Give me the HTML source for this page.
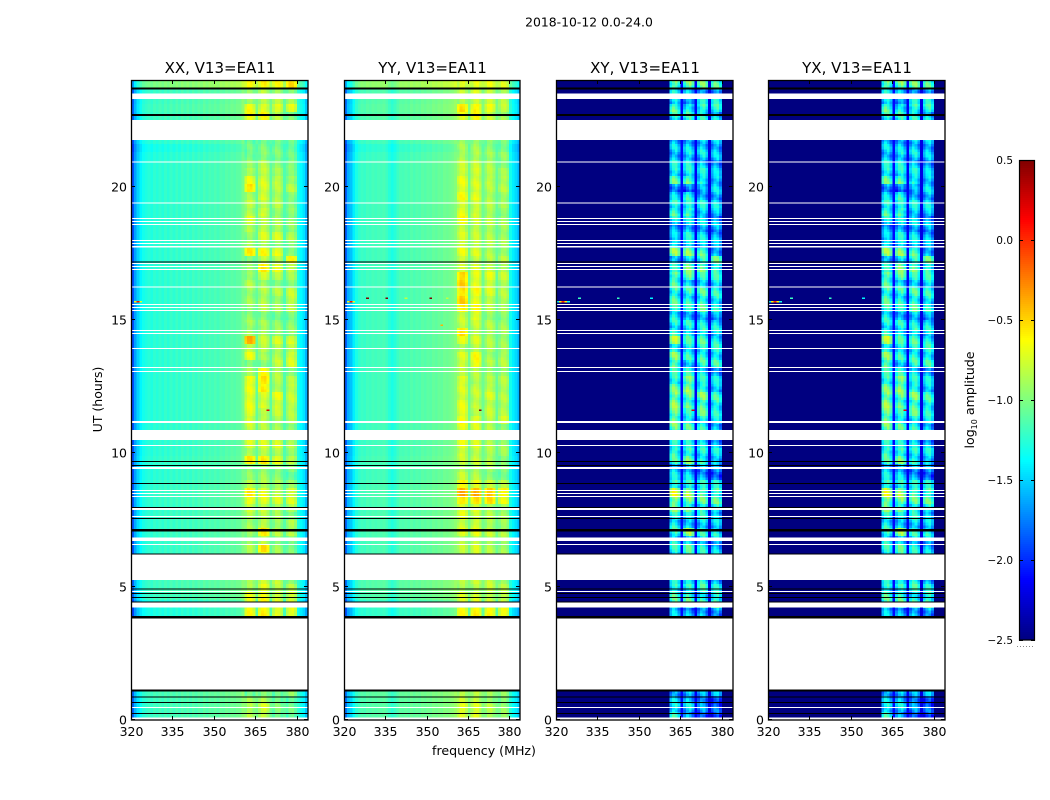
<!DOCTYPE html>
<html>
<head>
<meta charset="utf-8">
<title>2018-10-12 amplitude waterfall</title>
<style>
html,body{margin:0;padding:0;background:#fff;width:1050px;height:800px;overflow:hidden}
svg{display:block}
text{font-family:"DejaVu Sans","Liberation Sans",sans-serif;fill:#000}
</style>
</head>
<body>
<svg id="chart" xmlns="http://www.w3.org/2000/svg" width="1050" height="800" viewBox="0 0 1050 800">
  <text x="589" y="26.5" font-size="12.4" text-anchor="middle">2018-10-12 0.0-24.0</text>
  <text x="484" y="755" font-size="12.6" text-anchor="middle">frequency (MHz)</text>
  <text x="0" y="0" font-size="12.5" text-anchor="middle" transform="translate(102,399.5) rotate(-90)">UT (hours)</text>
  <text x="0" y="0" font-size="12.6" text-anchor="middle" transform="translate(974,400) rotate(-90)">log<tspan font-size="8" dy="3">10</tspan><tspan dy="-3"> amplitude</tspan></text>
</svg>
<script>
var panelTitles = ['XX, V13=EA11', 'YY, V13=EA11', 'XY, V13=EA11', 'YX, V13=EA11'];
var xTickValues = [320, 335, 350, 365, 380];
var yTickValues = [0, 5, 10, 15, 20];
var cbarTickValues = [-2.5, -2, -1.5, -1, -0.5, 0, 0.5];
var cbarTickLabels = ['\u22122.5', '\u22122.0', '\u22121.5', '\u22121.0', '\u22120.5', '0.0', '0.5'];
var freqStart = 320;
var freqEnd = 384;
var rowHours = 0.3;
var bandStartChannels = [361, 366, 371, 376];
var bandShapeParallel = [-0.1, 0.02, 0.02, -0.09];
var bandShapeCross = [-0.18, 0.06, 0.06, -0.2];
var rippleParallel = [0.03, 0.04, 0.01, -0.03, -0.05, -0.02, 0.03, 0.05, 0.02, -0.03, -0.05, -0.02, 0.01];
var rippleCross = [0.12, 0.15, 0.06, -0.1, -0.22, -0.08, 0.12, 0.16, 0.05, -0.12, -0.2, -0.05, 0.08];

var spectrumXX = [-1.9,-1.65,-1.5,-1.4,-1.32,-1.29,-1.26,-1.29,-1.24,-1.27,-1.23,-1.27,-1.22,-1.26,-1.21,-1.25,-1.2,-1.24,-1.19,-1.23,-1.19,-1.23,-1.18,-1.22,-1.18,-1.21,-1.16,-1.2,-1.16,-1.18,-1.15,-1.18,-1.14,-1.16,-1.12,-1.14,-1.11,-1.13,-1.1,-1.1,-1.02,-1.05,-1.05,-1.05,-1.05,-1.08,-1.05,-1.05,-1.05,-1.05,-1.1,-1.1,-1.1,-1.1,-1.1,-1.14,-1.1,-1.1,-1.1,-1.1,-1.3,-1.38,-1.45,-1.6];
var spectrumYY = [-1.85,-1.62,-1.55,-1.42,-1.3,-1.24,-1.2,-1.22,-1.18,-1.2,-1.17,-1.19,-1.17,-1.18,-1.16,-1.2,-1.26,-1.3,-1.26,-1.2,-1.16,-1.17,-1.15,-1.17,-1.13,-1.16,-1.13,-1.15,-1.11,-1.13,-1.1,-1.12,-1.08,-1.1,-1.07,-1.09,-1.05,-1.06,-1.04,-1.02,-0.98,-1,-1,-1,-1,-1.05,-1,-1,-1,-1,-1.05,-1,-1,-1,-1,-1.08,-1.05,-1.05,-1.05,-1.08,-1.32,-1.42,-1.48,-1.6];
var spectrumCross = [-2.5,-2.5,-2.5,-2.5,-2.5,-2.5,-2.5,-2.5,-2.5,-2.5,-2.5,-2.5,-2.5,-2.5,-2.5,-2.5,-2.5,-2.5,-2.5,-2.5,-2.5,-2.5,-2.5,-2.5,-2.5,-2.5,-2.5,-2.5,-2.5,-2.5,-2.5,-2.5,-2.5,-2.5,-2.5,-2.5,-2.5,-2.5,-2.5,-2.5,-2.5,-2.5,-2.5,-2.5,-2.5,-2.1,-2.5,-2.5,-2.5,-2.5,-2.15,-2.5,-2.5,-2.5,-2.5,-2.2,-2.5,-2.5,-2.5,-2.5,-2.5,-2.5,-2.5,-2.5];

var backgroundOffset = [0.06,0.06,0.06,0.08,0,0,0,0,0,0,0,0,0,-0.04,-0.04,0.05,0.06,0.06,0,0,0.02,0.02,0.02,0.03,0.02,0.03,0.02,0.03,0.03,0.02,0,0,0.02,0,0,0,0,0,0,0,0,0,0,0,0,0,0,0,0,0,0,0,0,0,0,0,0,0,0,0,0,0,0,0,0,0,0,0,0,0,-0.02,-0.06,0,0,0,0.05,0.07,0.05,0.04,0.24];

var bandXX = [
[-.85,-.8,-1,-1.05],[-.85,-.75,-1,-1.05],[-.9,-.85,-1,-1.05],[-1,-.95,-1.05,-.95],
null,null,null,null,null,null,null,null,null,
[-.65,-.6,-.7,-.7],[-.7,-.65,-.75,-.75],[-.7,-.65,-.75,-.75],[-.85,-.7,-.85,-.85],[-.9,-.8,-.8,-.95],
null,null,[-.85,-.7,-.9,-1],
[-.85,-.55,-.9,-1],[-.95,-.8,-.95,-1],[-.9,-.6,-.85,-.85],[-.9,-.8,-.9,-.85],[-.85,-.85,-.9,-1],[-.8,-.8,-.85,-.85],
[-.65,-.7,-.75,-.75],[-.6,-.7,-.8,-.75],[-.8,-.85,-.9,-.95],[-.95,-.9,-.95,-1.05],[-.95,-.9,-.95,-1],[-.6,-.6,-.7,-.8],[-.85,-.8,-.85,-.95],[-.75,-.75,-.75,-.85],
[-.8,-.85,-.9,-.95],[-.8,-.85,-.9,-.95],[-.75,-.8,-.85,-.85],[-.7,-.85,-.8,-.85],[-.7,-.75,-.75,-.8],[-.7,-.75,-.7,-.8],[-.7,-.6,-.85,-.8],[-.65,-.55,-.85,-.85],[-.9,-.65,-.85,-.95],
[-.95,-.95,-.8,-.75],[-.7,-.9,-.85,-.75],[-.8,-.8,-.85,-.85],[-.4,-.8,-.75,-.75],[-.9,-.85,-.9,-.95],[-.9,-.9,-.95,-.95],[-.95,-.95,-1,-1],[-.95,-.85,-.9,-.85],[-.9,-.85,-.9,-.8],[-.9,-.85,-.85,-.8],
[-.85,-.9,-.95,-.95],[-.9,-.75,-.85,-.9],[-.95,-.6,-.7,-.8],[-.95,-.8,-.85,-.65],[-.6,-.65,-.7,-.95],[-.85,-.85,-.95,-1],[-.95,-.75,-.75,-.85],[-.85,-.8,-.85,-.95],[-.75,-.85,-.9,-.95],[-.85,-.75,-.9,-.95],[-.8,-.85,-.85,-1],[-.9,-.75,-.85,-.95],[-.55,-.75,-.85,-.85],[-.7,-.75,-.8,-.9],[-.85,-.8,-.9,-1],[-.95,-.85,-.95,-.95],[-1,-.95,-1,-1.05],[-1.05,-1,-1,-1.05],
[-1.05,-1,-1,-1.05],null,null,
[-.65,-.65,-.85,-1],[-.65,-.7,-.7,-.7],[-.9,-.85,-.85,-.9],[-.95,-.8,-.85,-.95],[-.6,-.6,-.65,-.55]
];

var bandYY = [
[-.75,-.7,-.85,-.9],[-.7,-.75,-.85,-.95],[-.8,-.8,-.9,-.95],[-.8,-.8,-.9,-.95],
null,null,null,null,null,null,null,null,null,
[-.65,-.6,-.6,-.65],[-.75,-.75,-.8,-.8],[-.75,-.75,-.8,-.8],[-.85,-.85,-.8,-.85],[-.85,-.8,-.8,-.9],
null,null,[-.8,-.75,-.85,-.9],
[-.8,-.75,-.85,-.9],[-.85,-.8,-.85,-.9],[-.7,-.7,-.8,-.85],[-.8,-.75,-.85,-.9],[-.7,-.8,-.85,-.9],[-.75,-.75,-.85,-.9],
[-.55,-.55,-.55,-.7],[-.4,-.4,-.45,-.6],[-.6,-.7,-.8,-.85],[-.8,-.85,-.95,-1],[-.85,-.85,-.9,-1],[-.8,-.8,-.85,-.95],[-.75,-.8,-.85,-.9],[-.7,-.75,-.85,-.9],
[-.7,-.75,-.85,-.95],[-.7,-.75,-.85,-.95],[-.65,-.7,-.8,-.75],[-.7,-.85,-.8,-.85],[-.7,-.8,-.8,-.85],[-.75,-.8,-.75,-.85],[-.75,-.8,-.8,-.85],[-.7,-.85,-.85,-.85],[-.85,-.85,-.9,-.9],
[-.75,-.65,-.85,-.85],[-.75,-.65,-.9,-.85],[-.85,-.8,-.85,-.9],[-.7,-.75,-.85,-.9],[-.55,-.8,-.85,-.9],[-.8,-.8,-.85,-.9],[-.8,-.7,-.9,-.95],[-.6,-.65,-.85,-.9],[-.5,-.7,-.8,-.85],[-.55,-.65,-.75,-.85],
[-.5,-.7,-.75,-.85],[-.5,-.7,-.7,-.8],[-.8,-.75,-.8,-.85],[-.75,-.8,-.85,-.85],[-.7,-.75,-.85,-.9],[-.75,-.8,-.85,-.9],[-.75,-.8,-.85,-.9],[-.8,-.8,-.85,-.9],[-.65,-.8,-.85,-.9],[-.7,-.75,-.85,-.95],[-.75,-.8,-.85,-.9],[-.65,-.7,-.85,-.9],[-.7,-.75,-.85,-.85],[-.7,-.75,-.8,-.85],[-.75,-.75,-.85,-.9],[-.8,-.8,-.85,-.95],[-.85,-.85,-.9,-.95],[-.9,-.9,-.95,-1],
[-.9,-.9,-.95,-1],null,null,
[-.7,-.65,-.8,-.9],[-.55,-.6,-.65,-.8],[-.85,-.8,-.8,-.85],[-.8,-.7,-.75,-.85],[-.7,-.7,-.7,-.75]
];

var bandXY = [
[-1.3,-1.55,-1.7,-1.85],[-1.35,-1.45,-1.7,-1.85],[-1.5,-1.5,-1.6,-1.8],[-1.5,-1.5,-1.6,-1.6],
null,null,null,null,null,null,null,null,null,
[-1.55,-1.6,-1.5,-1.55],[-1.2,-1.2,-1.3,-1.2],[-1.2,-1.2,-1.3,-1.2],[-1.25,-1.3,-1.25,-1.4],[-1.4,-1.5,-1.35,-1.5],
null,null,[-1.3,-1.2,-1.35,-1.5],
[-1.3,-1.2,-1.35,-1.5],[-1.35,-1.4,-1.4,-1.5],[-1.25,-1,-1.3,-1.35],[-1.35,-1.4,-1.4,-1.45],[-1.3,-1.45,-1.35,-1.55],[-1.1,-1.2,-1.25,-1.3],
[-.95,-1.05,-1.15,-1.15],[-.8,-.95,-1.1,-1.15],[-1.2,-1.3,-1.35,-1.4],[-1.45,-1.5,-1.6,-1.7],[-1.45,-1.5,-1.6,-1.7],[-1.25,-1.1,-1.3,-1.4],[-1.15,-1.2,-1.3,-1.4],[-1.35,-1.4,-1.45,-1.55],
[-1.1,-1.2,-1.3,-1.5],[-1.1,-1.2,-1.3,-1.5],[-1.05,-1.25,-1.3,-1.4],[-1.05,-1.3,-1.15,-1.35],[-1,-1.15,-1.1,-1.25],[-1,-1.1,-1.05,-1.25],[-1.1,-1,-1.2,-1.4],[-1.2,-1.05,-1.35,-1.45],[-1.3,-1.3,-1.4,-1.55],
[-1.05,-1.4,-1.25,-1.25],[-1.05,-1.3,-1.25,-1.3],[-1.25,-1.3,-1.3,-1.3],[-.9,-1.25,-1.2,-1.35],[-1.25,-1.3,-1.25,-1.4],[-1.35,-1.35,-1.4,-1.4],[-1.35,-1.5,-1.45,-1.6],[-1.25,-1.35,-1.2,-1.35],[-1.2,-1.3,-1.2,-1.3],[-1.2,-1.25,-1.2,-1.3],
[-1.2,-1.4,-1.35,-1.35],[-1.1,-1.1,-1.3,-1.3],[-1.35,-1.1,-1.1,-1.2],[-1.4,-1.35,-1.3,-1.15],[-1,-1.05,-1.15,-1.5],[-1.3,-1.35,-1.5,-1.6],[-1.55,-1.4,-1.45,-1.55],[-1.6,-1.5,-1.5,-1.6],[-1.4,-1.45,-1.5,-1.6],[-1.2,-1.15,-1.4,-1.5],[-1.3,-1.4,-1.4,-1.45],[-1.5,-1.3,-1.5,-1.5],[-1.6,-1.75,-1.65,-1.5],[-1.15,-1.15,-1.3,-1.45],[-1.3,-1.35,-1.4,-1.55],[-1.4,-1.4,-1.5,-1.55],[-1.45,-1.4,-1.45,-1.55],[-1.5,-1.5,-1.45,-1.5],
[-1.5,-1.5,-1.45,-1.5],null,null,
[-1.3,-1.3,-1.35,-1.45],[-1.15,-1.3,-1.2,-1.25],[-1.4,-1.7,-1.4,-1.4],[-1.4,-1.45,-1.5,-1.55],[-1.05,-1.05,-1.1,-1.2]
];

var flaggedGaps = [[23.29,23.49],[21.75,22.47],[20.906,20.94],[19.36,19.4],[18.79,18.83],[18.68,18.71],[18.56,18.6],[17.96,18],[17.85,17.89],[17.72,17.78],[17.1,17.14],[16.99,17.03],[16.88,16.91],[16.22,16.26],[15.56,15.6],[15.45,15.49],[15.34,15.38],[14.59,14.625],[14.475,14.51],[13.91,13.95],[13.2,13.24],[13.05,13.09],[11.14,11.21],[10.5,10.875],[10.275,10.31],[9.41,9.49],[8.59,8.625],[8.475,8.51],[8.36,8.4],[7.875,7.95],[7.61,7.65],[6.71,6.84],[6.56,6.6],[5.25,6.21],[4.8,4.84],[4.21,4.41],[1.125,3.84],[0.45,0.49],[0,0.09]];
var blackScans = [[23.64,23.72],[22.65,22.72],[17.16,17.19],[9.675,9.71],[9.525,9.56],[8.85,8.89],[7.95,7.99],[7.54,7.58],[7.07,7.17],[6.2,6.24],[4.89,4.93],[4.725,4.76],[4.575,4.61],[4.41,4.44],[3.81,3.9],[1.07,1.14],[0.84,0.88],[0.64,0.675],[0.225,0.26]];
var spikePanels = [0,0,0,1,1,1,2,2,2,2,2,3,3,3,3,3,0,1,2,3,1,1,1,1,1,2,2,2,3,3,3,1];
var spikeFreqs = [321,322,323,321,322,323,320,321,322,323,324,320,321,322,323,324,369,369,369,369,328,335,342,351,357,328,342,354,328,342,354,355];
var spikeHours = [15.67,15.67,15.67,15.67,15.67,15.67,15.67,15.67,15.67,15.67,15.67,15.67,15.67,15.67,15.67,15.67,11.6,11.6,11.6,11.6,15.8,15.8,15.8,15.8,15.8,15.8,15.8,15.8,15.8,15.8,15.8,14.8];
var spikeValues = [-0.7,0.1,-0.7,-0.7,0.1,-0.7,-1.4,-0.6,0,-0.6,-1.3,-1.4,-0.6,0,-0.6,-1.3,0.2,0.45,0.2,0.2,0.5,0.5,-0.8,0.5,-0.8,-1.2,-1.2,-1.4,-1.2,-1.2,-1.4,-0.4];

var panelSpectra = [spectrumXX, spectrumYY, spectrumCross, spectrumCross];
var panelBands = [bandXX, bandYY, bandXY, bandXY];
var panelUsesOffset = [true, true, false, false];
var panelShapes = [bandShapeParallel, bandShapeParallel, bandShapeCross, bandShapeCross];
var panelRipples = [rippleParallel, rippleParallel, rippleCross, rippleCross];
var panelLefts = [131, 344, 556, 768];
var panelWidths = [177, 176, 177, 177];
var plotTop = 80;
var plotBottom = 720;
var subRows = 3;
var cbarLeft = 1019;
var cbarWidth = 16;
var cbarTop = 160;
var cbarBottom = 640;
var cbarMin = -2.5;
var cbarMax = 0.5;
var SVG_NS = 'http://www.w3.org/2000/svg';
var svg = document.getElementById('chart');

function jetPart(t, c) {
  var v = 1.5 - Math.abs(4 * t - c);
  return Math.round(255 * Math.max(0, Math.min(1, v)));
}
function jet(value) {
  var t = (value - cbarMin) / (cbarMax - cbarMin);
  t = Math.max(0, Math.min(1, t));
  return 'rgb(' + jetPart(t, 3) + ',' + jetPart(t, 2) + ',' + jetPart(t, 1) + ')';
}
function xScale(panel, freq) {
  return panelLefts[panel] + (freq - freqStart) * panelWidths[panel] / (freqEnd - freqStart);
}
function yScale(hours) {
  return plotBottom - hours * (plotBottom - plotTop) / 24;
}
function cbarScale(value) {
  return cbarBottom - (value - cbarMin) * (cbarBottom - cbarTop) / (cbarMax - cbarMin);
}
function makeRect(parent, x, y, w, h, fill) {
  var r = document.createElementNS(SVG_NS, 'rect');
  r.setAttribute('x', x);
  r.setAttribute('y', y);
  r.setAttribute('width', w);
  r.setAttribute('height', h);
  r.setAttribute('fill', fill);
  parent.appendChild(r);
  return r;
}
function makeLine(parent, x1, y1, x2, y2) {
  var l = document.createElementNS(SVG_NS, 'line');
  l.setAttribute('x1', x1);
  l.setAttribute('y1', y1);
  l.setAttribute('x2', x2);
  l.setAttribute('y2', y2);
  l.setAttribute('stroke', '#000');
  l.setAttribute('stroke-width', 1);
  parent.appendChild(l);
  return l;
}
function makeText(parent, x, y, content, size, anchor) {
  var t = document.createElementNS(SVG_NS, 'text');
  t.setAttribute('x', x);
  t.setAttribute('y', y);
  t.setAttribute('font-size', size);
  t.setAttribute('text-anchor', anchor);
  t.textContent = content;
  parent.appendChild(t);
  return t;
}
function makeGroup(parent) {
  var g = document.createElementNS(SVG_NS, 'g');
  parent.appendChild(g);
  return g;
}
function bandChannelIndex(freq, shape) {
  for (var b = 0; b < bandStartChannels.length; b++) {
    var k = freq - bandStartChannels[b];
    if (k >= 0 && k < shape.length) return [b, k];
  }
  return null;
}

function drawPanel(p) {
  var left = panelLefts[p];
  var width = panelWidths[p];
  var right = left + width;
  var group = makeGroup(svg);
  
  
  var cells = makeGroup(group);
  
  
  cells.setAttribute('shape-rendering', 'crispEdges');
  var rows = panelBands[p];
  var spectrum = panelSpectra[p];
  var shape = panelShapes[p];
  var ripple = panelRipples[p];
  for (var r = 0; r < rows.length; r++) {
    if (!rows[r]) continue;
    var yTop = yScale((r + 1) * rowHours);
    var yBot = yScale(r * rowHours);
    for (var c = 0; c < spectrum.length; c++) {
      var freq = freqStart + c;
      var inBand = bandChannelIndex(freq, shape);
      var x0 = xScale(p, freq);
      var x1 = xScale(p, freq + 1);
      if (inBand) {
        for (var s = 0; s < subRows; s++) {
          var rip = ripple[(r * subRows + s + Math.floor(inBand[1] / 2) + inBand[0]) % ripple.length];
          var bandValue = rows[r][inBand[0]] + shape[inBand[1]] + rip;
          var subTop = yBot - (s + 1) * (yBot - yTop) / subRows;
          var bandCell = makeRect(cells, x0, subTop, x1 - x0, (yBot - yTop) / subRows, jet(bandValue));
          
          
        }
      } else {
        var value = spectrum[c] + (panelUsesOffset[p] ? backgroundOffset[r] : 0);
        var cell = makeRect(cells, x0, yTop, x1 - x0, yBot - yTop, jet(value));
        
        
      }
    }
  }
  var overlays = makeGroup(group);
  
  
  overlays.setAttribute('shape-rendering', 'crispEdges');
  for (var q = 0; q < spikeValues.length; q++) {
    if (spikePanels[q] !== p) continue;
    var sx = xScale(p, spikeFreqs[q]);
    var sy = yScale(spikeHours[q]);
    var spike = makeRect(overlays, sx, sy - 1, xScale(p, spikeFreqs[q] + 1) - sx, 1.5, jet(spikeValues[q]));
    
    
  }
  for (var g = 0; g < flaggedGaps.length; g++) {
    var gapTop = yScale(flaggedGaps[g][1]);
    var gap = makeRect(overlays, left, gapTop, width, yScale(flaggedGaps[g][0]) - gapTop, '#fff');
    
    
  }
  for (var b = 0; b < blackScans.length; b++) {
    var scanTop = yScale(blackScans[b][1]);
    var scan = makeRect(overlays, left, scanTop, width, yScale(blackScans[b][0]) - scanTop, '#000');
    
    
  }
  var frame = makeRect(group, left + 0.5, plotTop + 0.5, width - 0.5, plotBottom - plotTop - 0.5, 'none');
  frame.setAttribute('stroke', '#000');
  frame.setAttribute('stroke-width', 1.3);
  
  
  var title = makeText(group, left + width / 2 + 0.5, 73, panelTitles[p], 15, 'middle');
  
  
  for (var i = 0; i < xTickValues.length; i++) {
    var tx = Math.round(xScale(p, xTickValues[i])) + 0.5;
    var tickB = makeLine(group, tx, plotBottom, tx, plotBottom - 4);
    
    
    var tickT = makeLine(group, tx, plotTop, tx, plotTop + 4);
    
    
    var xLabel = makeText(group, tx, 736, String(xTickValues[i]), 12.5, 'middle');
    
    
  }
  for (var j = 0; j < yTickValues.length; j++) {
    var ty = Math.round(yScale(yTickValues[j])) - 0.5;
    var tickL = makeLine(group, left, ty, left + 4, ty);
    
    
    var tickR = makeLine(group, right, ty, right - 4, ty);
    
    
    var yLabel = makeText(group, left - 4, ty + 5, String(yTickValues[j]), 12.5, 'end');
    
    
  }
}

function drawColorbar() {
  var group = makeGroup(svg);
  
  
  var ramp = makeGroup(group);
  
  
  ramp.setAttribute('shape-rendering', 'crispEdges');
  var steps = 240;
  for (var s = 0; s < steps; s++) {
    var v0 = cbarMin + (cbarMax - cbarMin) * s / steps;
    var v1 = cbarMin + (cbarMax - cbarMin) * (s + 1) / steps;
    var ry = cbarScale(v1);
    var seg = makeRect(ramp, cbarLeft, ry, cbarWidth, cbarScale(v0) - ry, jet((v0 + v1) / 2));
    
    
  }
  var frame = makeRect(group, cbarLeft + 0.5, cbarTop + 0.5, cbarWidth - 1, cbarBottom - cbarTop - 0.5, 'none');
  frame.setAttribute('stroke', '#000');
  frame.setAttribute('stroke-width', 1.2);
  
  
  for (var i = 0; i < cbarTickValues.length; i++) {
    var y = Math.round(cbarScale(cbarTickValues[i])) + 0.5;
    var t1 = makeLine(group, cbarLeft, y, cbarLeft + 4, y);
    
    
    var t2 = makeLine(group, cbarLeft + cbarWidth, y, cbarLeft + cbarWidth - 4, y);
    
    
    var label = makeText(group, cbarLeft - 6, y + 3.5, cbarTickLabels[i], 10.5, 'end');
    
    
  }
  var dots = makeLine(group, 1017, 646.5, 1035, 646.5);
  dots.setAttribute('stroke', '#888');
  dots.setAttribute('stroke-dasharray', '1 2');
  
  
}

for (var p = 0; p < panelTitles.length; p++) {
  drawPanel(p);
}
drawColorbar();
</script>
</body>
</html>
